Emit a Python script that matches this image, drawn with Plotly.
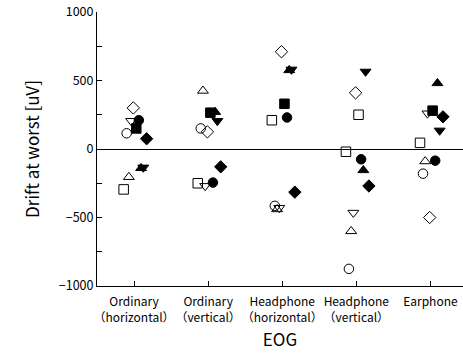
import plotly.graph_objects as go

categories = ["Ordinary<br>（horizontal）", "Ordinary<br>（vertical）",
              "Headphone<br>（horizontal）", "Headphone<br>（vertical）", "Earphone"]

# one list per subject/marker series, values per category (uV)
open_square   = [-295, -250, 210, -20, 45]
open_circle   = [115, 150, -415, -875, -180]
open_tri_up   = [-205, 425, -440, -600, -90]
open_tri_down = [205, -270, -430, -465, 260]
open_diamond  = [300, 125, 710, 410, -500]
fill_square   = [150, 265, 330, 250, 280]
fill_circle   = [210, -245, 230, -75, -85]
fill_tri_up   = [-140, 270, 575, -155, 480]
fill_tri_down = [-135, 205, 580, 565, 135]
fill_diamond  = [75, -130, -315, -270, 235]

series = [
    ("open square", open_square, "square-open", -0.14),
    ("open circle", open_circle, "circle-open", -0.10),
    ("open triangle-up", open_tri_up, "triangle-up-open", -0.07),
    ("open triangle-down", open_tri_down, "triangle-down-open", -0.04),
    ("open diamond", open_diamond, "diamond-open", -0.01),
    ("filled square", fill_square, ["square", "square", "square", "square-open", "square"], 0.03),
    ("filled circle", fill_circle, "circle", 0.065),
    ("filled triangle-up", fill_tri_up, "triangle-up", 0.095),
    ("filled triangle-down", fill_tri_down, "triangle-down", 0.125),
    ("filled diamond", fill_diamond, "diamond", 0.17),
]

fig = go.Figure()
for name, vals, sym, off in series:
    fig.add_trace(go.Scatter(
        x=[i + off for i in range(len(categories))], y=vals, mode="markers", name=name,
        marker=dict(symbol=sym, size=9.5, color="black", line=dict(color="black", width=1)),
    ))

font = "Noto Sans CJK JP, Noto Sans, sans-serif"
fig.update_layout(
    width=463, height=353,
    margin=dict(l=97, r=0, t=12, b=67),
    paper_bgcolor="white", plot_bgcolor="white",
    showlegend=False,
    font=dict(family=font, color="black", size=12),
    xaxis=dict(
        range=[-0.5, 4.44], tickvals=list(range(len(categories))), ticktext=categories,
        showline=True, linecolor="black", linewidth=1, ticks="inside", ticklen=5,
        tickcolor="black", showgrid=False, zeroline=False, tickangle=0, automargin=False,
        ticklabelstandoff=5,
        title=dict(text="EOG", font=dict(size=17), standoff=10),
        tickfont=dict(size=12),
    ),
    yaxis=dict(
        range=[-1000, 1000], tickvals=[-1000, -500, 0, 500, 1000],
        showline=True, linecolor="black", linewidth=1, ticks="inside", ticklen=5,
        tickcolor="black", showgrid=False, automargin=False,
        minor=dict(dtick=250, ticks="inside", ticklen=5, tickcolor="black", showgrid=False),
        zeroline=True, zerolinecolor="black", zerolinewidth=1,
        title=dict(text="Drift at worst [uV]", font=dict(size=17), standoff=14),
        tickfont=dict(size=12.5),
    ),
)

fig.write_html("out.html")
